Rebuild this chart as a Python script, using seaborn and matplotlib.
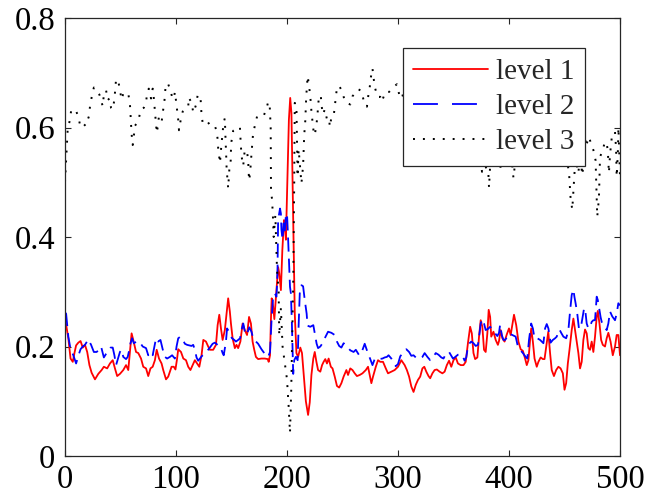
import matplotlib
matplotlib.use("Agg")
import matplotlib.pyplot as plt
from matplotlib.lines import Line2D
import pandas as pd
import seaborn as sns

# ---------------- data ----------------
level1_pts = [
    (0, 0.245), (1, 0.24), (3, 0.215), (5, 0.178), (7, 0.172), (8.5, 0.188), (10, 0.202), (12, 0.207), (14, 0.21), (16, 0.198),
    (18, 0.203), (20, 0.19), (22, 0.166), (24, 0.152), (27, 0.14), (30, 0.15), (33, 0.157), (35, 0.163), (38, 0.16), (40.5, 0.169),
    (43, 0.175), (45, 0.16), (47, 0.146), (49.5, 0.15), (52.5, 0.157), (55, 0.166), (57, 0.157), (58.5, 0.19), (60, 0.224), (61.5, 0.212),
    (64, 0.19), (66, 0.188), (68.5, 0.178), (70.5, 0.163), (73, 0.16), (75, 0.146), (77, 0.16), (79, 0.163), (81, 0.175), (82.6, 0.194),
    (84.7, 0.178), (87, 0.169), (88.5, 0.157), (91, 0.14), (93, 0.145), (96, 0.163), (98, 0.163), (99.5, 0.158), (101, 0.178), (102, 0.195),
    (104.5, 0.19), (106.6, 0.178), (109, 0.175), (111, 0.163), (113, 0.157), (115, 0.166), (117, 0.175), (119, 0.169), (121, 0.163), (123, 0.184),
    (124.6, 0.212), (127, 0.209), (129, 0.2), (130.5, 0.194), (133.5, 0.194), (136, 0.203), (137.5, 0.239), (139, 0.258), (140.5, 0.233), (142, 0.212),
    (144, 0.23), (145.5, 0.26), (147, 0.288), (148.5, 0.264), (149.5, 0.242), (151, 0.215), (153, 0.197), (154.5, 0.203), (156, 0.197), (158, 0.209),
    (160, 0.242), (162, 0.23), (164, 0.221), (165.8, 0.254), (167.5, 0.242), (169, 0.209), (170.5, 0.194), (172, 0.181), (174, 0.177), (177, 0.178),
    (180, 0.178), (182.6, 0.177), (183.5, 0.172), (184.7, 0.184), (185.5, 0.248), (186.2, 0.288), (187.5, 0.273), (188.6, 0.25), (190, 0.29), (191, 0.32),
    (192, 0.345), (193, 0.334), (194.5, 0.303), (195.8, 0.376), (197.3, 0.431), (198.2, 0.419), (199, 0.395), (200.3, 0.504), (201.7, 0.614), (202.9, 0.654),
    (204, 0.626), (205, 0.504), (206, 0.382), (207, 0.26), (208.5, 0.188), (210, 0.181), (212, 0.198), (213.5, 0.188), (215.5, 0.139), (217, 0.1),
    (219, 0.075), (220.5, 0.098), (222, 0.148), (223.7, 0.178), (225, 0.19), (226.5, 0.172), (228, 0.157), (230, 0.154), (231.6, 0.166), (233, 0.172),
    (234.5, 0.177), (236, 0.169), (237.5, 0.178), (239.5, 0.163), (241, 0.16), (243, 0.145), (245, 0.128), (247, 0.125), (249, 0.133), (251, 0.145),
    (253.5, 0.157), (255, 0.148), (257, 0.16), (259, 0.157), (261, 0.151), (263, 0.146), (265.5, 0.148), (268, 0.151), (271, 0.157), (273, 0.163),
    (274.5, 0.148), (276, 0.133), (277.5, 0.145), (280, 0.163), (282, 0.175), (284, 0.172), (286.5, 0.172), (289, 0.16), (291, 0.151), (294, 0.154),
    (297, 0.157), (300, 0.163), (303, 0.175), (306, 0.166), (308, 0.157), (310, 0.145), (312, 0.127), (314, 0.117), (316, 0.13), (318, 0.139),
    (320, 0.145), (322, 0.16), (323.7, 0.163), (325.5, 0.154), (327.5, 0.146), (329, 0.142), (331, 0.151), (333, 0.157), (335, 0.158), (337.5, 0.154),
    (340, 0.151), (342, 0.154), (344, 0.166), (346, 0.174), (348, 0.163), (350, 0.175), (352, 0.18), (354, 0.169), (356.5, 0.166), (359, 0.166),
    (361, 0.172), (363, 0.206), (365, 0.236), (366.5, 0.224), (368, 0.188), (369.5, 0.177), (371.5, 0.18), (373, 0.218), (374.5, 0.248), (376, 0.236),
    (377.5, 0.194), (379, 0.19), (380.5, 0.224), (381.7, 0.267), (383, 0.254), (384, 0.218), (386, 0.227), (388, 0.212), (390, 0.203), (391, 0.21),
    (392.5, 0.23), (394, 0.215), (396, 0.209), (398, 0.222), (400, 0.233), (401.5, 0.221), (404.5, 0.258), (406.5, 0.239), (408.5, 0.209), (410.5, 0.195),
    (412.5, 0.192), (414.5, 0.178), (416, 0.166), (417.5, 0.175), (419, 0.212), (420, 0.233), (421.5, 0.209), (423, 0.178), (425, 0.163), (426.5, 0.172),
    (428.5, 0.18), (430.5, 0.177), (432, 0.177), (434, 0.206), (435.4, 0.227), (437, 0.188), (438.5, 0.157), (440.5, 0.146), (442.5, 0.157), (444.5, 0.163),
    (446.5, 0.16), (448.5, 0.151), (450, 0.121), (451.5, 0.133), (453, 0.169), (454.5, 0.194), (456.5, 0.23), (458, 0.251), (459.5, 0.23), (461, 0.209),
    (462.5, 0.188), (464, 0.16), (465.5, 0.172), (467, 0.212), (468.5, 0.231), (470, 0.224), (471.5, 0.197), (473, 0.194), (474.5, 0.209), (476, 0.19),
    (477.5, 0.218), (479, 0.254), (480, 0.265), (481.5, 0.242), (483, 0.212), (484.5, 0.203), (486.5, 0.2), (488, 0.215), (489.5, 0.225), (491.5, 0.209),
    (493.5, 0.184), (495.5, 0.2), (497, 0.221), (498.5, 0.221), (500, 0.184),
]

level2_pts = [
    (0, 0.262), (1, 0.26), (3, 0.218), (5, 0.195), (7.5, 0.184), (10, 0.169), (12, 0.183), (14, 0.195), (16, 0.2), (18, 0.203),
    (21, 0.213), (23.5, 0.203), (26, 0.19), (28.5, 0.19), (31, 0.195), (32.5, 0.2), (35, 0.18), (38, 0.19), (41, 0.198), (43, 0.198),
    (44.5, 0.184), (46, 0.166), (48, 0.18), (49.5, 0.19), (51, 0.194), (52.5, 0.181), (55, 0.177), (56.5, 0.181), (58, 0.195), (59, 0.206),
    (60.5, 0.215), (62, 0.206), (64.5, 0.209), (67, 0.209), (70, 0.2), (73, 0.197), (75, 0.184), (77, 0.19), (79, 0.184), (80.5, 0.2),
    (82, 0.215), (84, 0.209), (86, 0.212), (88, 0.195), (90, 0.181), (92, 0.178), (94.5, 0.181), (96.5, 0.184), (99, 0.178), (100.5, 0.2),
    (102, 0.215), (104, 0.218), (106, 0.213), (108, 0.205), (110, 0.203), (112, 0.202), (114, 0.201), (115.5, 0.203), (117, 0.194), (118.5, 0.18),
    (120, 0.174), (121.5, 0.178), (123.5, 0.183), (125.5, 0.186), (127, 0.189), (129, 0.194), (130.5, 0.198), (133, 0.205), (135, 0.207), (137.5, 0.203),
    (140, 0.2), (142, 0.188), (143, 0.184), (145, 0.209), (146, 0.233), (147.5, 0.228), (148.6, 0.221), (150.5, 0.215), (152.5, 0.212), (154, 0.209),
    (156, 0.212), (157.7, 0.215), (159, 0.23), (160.6, 0.242), (162, 0.227), (163.7, 0.221), (166, 0.235), (168, 0.227), (169.5, 0.215), (172, 0.209),
    (174, 0.205), (177, 0.195), (179.5, 0.188), (181.7, 0.184), (183, 0.181), (184.7, 0.19), (186, 0.245), (187.5, 0.291), (189, 0.297), (190.5, 0.291),
    (191, 0.312), (191.5, 0.346), (192, 0.431), (193.7, 0.452), (194.5, 0.443), (195, 0.413), (196, 0.395), (197, 0.425), (198, 0.41), (199, 0.44),
    (200, 0.443), (200.8, 0.407), (201.5, 0.37), (202, 0.34), (202.7, 0.309), (203.5, 0.297), (204.3, 0.25), (205, 0.2), (205.6, 0.15), (206.5, 0.175),
    (208, 0.181), (209.6, 0.175), (210.5, 0.24), (211.5, 0.297), (213, 0.312), (214.5, 0.31), (216, 0.285), (217.7, 0.26), (218.5, 0.238), (221, 0.236),
    (223.7, 0.239), (225, 0.224), (226.7, 0.205), (228, 0.197), (230, 0.2), (232, 0.206), (234, 0.215), (237, 0.227), (240, 0.225), (243, 0.221),
    (245, 0.209), (247, 0.201), (249, 0.198), (251, 0.206), (254, 0.2), (257, 0.193), (260, 0.19), (262, 0.194), (265, 0.184), (267, 0.188),
    (270, 0.205), (272.5, 0.19), (275, 0.177), (277, 0.166), (279, 0.177), (281, 0.175), (283, 0.177), (286, 0.178), (288, 0.18), (290, 0.181),
    (291.5, 0.184), (294, 0.178), (296, 0.17), (298, 0.164), (300, 0.168), (302, 0.182), (305, 0.19), (307.5, 0.195), (310, 0.19), (312, 0.183),
    (314, 0.184), (317, 0.178), (319.5, 0.178), (322, 0.181), (324, 0.188), (326.5, 0.181), (329, 0.175), (331.5, 0.18), (334, 0.188), (336.5, 0.185),
    (339, 0.18), (341, 0.178), (343.5, 0.188), (346, 0.19), (348, 0.183), (349.5, 0.178), (351, 0.18), (354, 0.185), (356, 0.186), (358, 0.184),
    (360, 0.174), (361.5, 0.18), (363, 0.2), (364.5, 0.206), (366, 0.209), (368, 0.206), (370, 0.201), (372, 0.203), (373.5, 0.225), (374.5, 0.242),
    (376, 0.25), (377.5, 0.242), (379, 0.23), (381, 0.232), (383, 0.236), (385.5, 0.23), (387.5, 0.224), (389.5, 0.219), (391, 0.225), (392, 0.24),
    (393.5, 0.221), (395, 0.212), (396.5, 0.212), (398.5, 0.218), (400, 0.224), (402, 0.222), (404, 0.22), (406, 0.218), (408, 0.2), (410, 0.194),
    (412.5, 0.188), (415, 0.181), (416.5, 0.178), (418, 0.212), (420, 0.242), (421.5, 0.233), (423, 0.215), (425.5, 0.215), (428, 0.212), (431, 0.206),
    (432.5, 0.233), (434, 0.241), (435.5, 0.233), (437.5, 0.207), (439.5, 0.212), (441.5, 0.215), (443, 0.218), (444.5, 0.227), (445.5, 0.231), (447, 0.225),
    (449, 0.218), (451.5, 0.215), (453.5, 0.23), (455, 0.264), (456.5, 0.294), (458, 0.304), (459, 0.29), (460, 0.279), (461.5, 0.26), (463, 0.233),
    (464.6, 0.233), (466.4, 0.254), (467.5, 0.268), (468.5, 0.27), (470, 0.242), (471.5, 0.233), (473, 0.236), (474.5, 0.245), (476, 0.248), (477.5, 0.248),
    (479, 0.291), (480, 0.285), (481, 0.273), (482.5, 0.254), (483.5, 0.245), (485.5, 0.238), (488, 0.23), (489.5, 0.242), (491, 0.264), (493, 0.255),
    (495.5, 0.248), (497, 0.26), (498.5, 0.279), (500, 0.275),
]

level3_pts = [
    (0, 0.5), (1.5, 0.56), (2.5, 0.6), (4, 0.61), (5.5, 0.63), (7.5, 0.634), (10, 0.63), (12, 0.62), (13.5, 0.605), (15, 0.61),
    (18.5, 0.603), (21.5, 0.62), (22.5, 0.638), (24, 0.655), (26, 0.673), (28.5, 0.668), (31, 0.66), (32.5, 0.649), (34, 0.639), (35, 0.66),
    (37, 0.668), (38.5, 0.65), (40, 0.653), (41.5, 0.636), (43, 0.633), (44.5, 0.651), (46, 0.688), (48, 0.685), (49.5, 0.668), (51, 0.651),
    (52.5, 0.662), (54.5, 0.66), (57, 0.662), (58.5, 0.643), (59, 0.625), (59.5, 0.606), (60, 0.588), (61, 0.568), (62, 0.584), (63, 0.603),
    (65, 0.609), (66.5, 0.615), (68, 0.632), (71, 0.636), (73, 0.645), (74, 0.664), (75.5, 0.671), (77.5, 0.653), (79, 0.671), (79.5, 0.662),
    (80.5, 0.645), (81, 0.627), (82, 0.609), (82.5, 0.59), (83.5, 0.6), (84.5, 0.618), (85.5, 0.612), (87, 0.609), (88, 0.627), (89.5, 0.645),
    (90, 0.662), (91, 0.68), (93, 0.679), (94.6, 0.67), (96.5, 0.656), (98, 0.652), (99, 0.665), (100, 0.649), (101, 0.631), (102, 0.614),
    (102.7, 0.595), (104, 0.611), (106, 0.629), (111, 0.637), (111.5, 0.655), (114, 0.645), (115.6, 0.627), (118, 0.641), (119.5, 0.659), (122, 0.658),
    (122.5, 0.641), (123, 0.623), (124, 0.609), (126, 0.608), (128, 0.612), (131, 0.603), (135, 0.603), (136.5, 0.594), (137.5, 0.579), (138, 0.562),
    (139, 0.544), (139.6, 0.535), (140.3, 0.553), (141, 0.571), (142, 0.589), (142.6, 0.606), (144, 0.617), (144.3, 0.598), (144.6, 0.58), (145, 0.562),
    (145.3, 0.544), (145.6, 0.525), (146.3, 0.507), (147, 0.489), (148, 0.522), (149.3, 0.54), (149.5, 0.558), (150, 0.575), (151.5, 0.594), (154, 0.597),
    (155.6, 0.599), (157.6, 0.601), (158, 0.583), (158.5, 0.566), (159, 0.548), (160.6, 0.53), (161, 0.541), (162, 0.559), (164, 0.556), (165, 0.54),
    (165.8, 0.503), (166.7, 0.515), (168, 0.552), (169.4, 0.588), (171, 0.603), (173, 0.62), (177, 0.621), (179, 0.621), (182, 0.638), (183, 0.647),
    (184.4, 0.641), (185.3, 0.6), (185.6, 0.48), (186.5, 0.47), (187.5, 0.43), (188, 0.4), (189.5, 0.44), (191, 0.34), (192.5, 0.3), (193, 0.22),
    (194.5, 0.27), (196, 0.2), (198, 0.17), (200, 0.14), (201.5, 0.09), (202.7, 0.042), (203.8, 0.12), (204.5, 0.2), (205.7, 0.33), (206.5, 0.5),
    (207, 0.645), (208.5, 0.64), (209.5, 0.51), (210.5, 0.56), (211.7, 0.53), (213, 0.498), (214.5, 0.53), (215.5, 0.586), (216.5, 0.613), (217.3, 0.656),
    (218.6, 0.694), (219.5, 0.682), (220.5, 0.665), (221.5, 0.645), (222, 0.629), (223, 0.611), (224, 0.592), (225, 0.586), (226.5, 0.605), (227.5, 0.623),
    (228, 0.641), (229, 0.658), (230.5, 0.658), (231, 0.641), (232.5, 0.624), (234, 0.633), (236, 0.615), (238, 0.617), (238.5, 0.601), (240, 0.618),
    (242, 0.62), (243, 0.638), (244, 0.656), (245, 0.673), (247, 0.676), (250, 0.665), (252, 0.648), (254, 0.645), (257, 0.642), (259, 0.657),
    (264, 0.67), (267, 0.667), (269, 0.65), (272, 0.638), (273, 0.655), (274.5, 0.673), (275.5, 0.691), (277, 0.708), (278, 0.69), (279.5, 0.671),
    (281.5, 0.656), (284, 0.656), (285.5, 0.647), (288.5, 0.665), (292, 0.665), (296.5, 0.675), (299, 0.679), (301, 0.661), (303, 0.667), (306, 0.645),
    (309, 0.66), (312, 0.63), (315, 0.65), (318, 0.62), (321, 0.64), (324, 0.665), (327, 0.64), (330, 0.61), (333, 0.63), (336, 0.655),
    (339, 0.64), (342, 0.6), (345, 0.62), (348, 0.645), (351, 0.63), (354, 0.6), (357, 0.615), (360, 0.64), (363, 0.62), (366, 0.59),
    (369, 0.6), (372, 0.57), (374, 0.545), (375.7, 0.519), (377.5, 0.54), (379.5, 0.525), (381, 0.535), (382, 0.49), (383.5, 0.55), (386, 0.6),
    (389, 0.58), (391, 0.545), (392, 0.522), (393.5, 0.55), (396, 0.6), (399, 0.58), (402, 0.55), (404, 0.508), (405, 0.526), (407, 0.56),
    (410, 0.6), (413, 0.58), (416, 0.555), (418.5, 0.535), (420, 0.525), (421.5, 0.55), (424, 0.6), (427, 0.62), (430, 0.6), (433, 0.63),
    (436, 0.61), (439, 0.59), (442, 0.6), (445, 0.58), (448, 0.59), (450, 0.56), (452, 0.54), (454, 0.52), (455.5, 0.47), (457, 0.45),
    (458.5, 0.5), (460, 0.55), (461.5, 0.525), (462.5, 0.517), (464, 0.55), (466, 0.513), (467.5, 0.54), (469, 0.58), (470, 0.57), (472, 0.583),
    (474, 0.57), (476, 0.559), (478, 0.54), (479.5, 0.437), (481, 0.47), (482, 0.546), (484.5, 0.56), (486.5, 0.574), (488, 0.57), (489, 0.559),
    (490, 0.517), (491, 0.55), (492.5, 0.58), (494, 0.59), (495.5, 0.592), (496.5, 0.56), (497, 0.51), (498, 0.55), (498.6, 0.6), (500, 0.51),
]

series_labels = ["level 1", "level 2", "level 3"]
x_ticks = [0, 100, 200, 300, 400, 500]
y_ticks = [0, 0.2, 0.4, 0.6, 0.8]
y_tick_labels = ["0", "0.2", "0.4", "0.6", "0.8"]

# ---------------- style ----------------
sns.set_style("ticks")
plt.rcParams["font.family"] = ["Liberation Serif", "DejaVu Serif"]
AX_COLOR = "#262626"

fig = plt.figure(figsize=(6.45, 5.01), dpi=100)
ax = fig.add_axes([65 / 645, 1 - 456 / 501, 555 / 645, 438 / 501])

frames = []
for pts, lab in zip([level1_pts, level2_pts, level3_pts], series_labels):
    xs, ys = zip(*pts)
    frames.append(pd.DataFrame({"x": xs, "y": ys, "series": lab}))

styles = {
    "level 1": dict(color="#ff0000", lw=1.3, ls="-"),
    "level 2": dict(color="#0000ff", lw=1.3, ls=(0, (7.8, 3.9))),
    "level 3": dict(color="#000000", lw=1.4, ls=(0, (1.0, 4.1))),
}
for df in frames:
    lab = df["series"].iloc[0]
    st = styles[lab]
    sns.lineplot(data=df, x="x", y="y", ax=ax, estimator=None, sort=False,
                 color=st["color"], linewidth=st["lw"], linestyle=st["ls"])

ax.set_xlim(0, 500)
ax.set_ylim(0, 0.8)
ax.set_xticks(x_ticks)
ax.set_xticklabels([str(t) for t in x_ticks])
ax.set_yticks(y_ticks)
ax.set_yticklabels(y_tick_labels)
ax.set_xlabel("")
ax.set_ylabel("")

for sp in ax.spines.values():
    sp.set_visible(True)
    sp.set_color(AX_COLOR)
    sp.set_linewidth(0.9)
ax.tick_params(axis="both", which="both", direction="in", length=4, width=0.8,
               color=AX_COLOR, labelsize=23.5, labelcolor="black",
               top=True, right=True)
ax.tick_params(axis="x", pad=6)
ax.tick_params(axis="y", pad=7)

# legend with the reference's handle styles
handles = [
    Line2D([], [], color="#ff0000", lw=1.3, ls="-"),
    Line2D([], [], color="#0000ff", lw=1.3, ls=(0, (13.8, 7.8))),
    Line2D([], [], color="#000000", lw=1.4, ls=(0, (1.0, 4.1))),
]
leg = ax.legend(handles, series_labels, loc="upper right",
                bbox_to_anchor=((585 - 65) / 555, (456 - 48) / 438),
                borderaxespad=0, frameon=True, fancybox=False, framealpha=1,
                edgecolor=AX_COLOR, fontsize=21, handlelength=2.55,
                handletextpad=0.28, borderpad=0.36, labelspacing=0.30)
leg.get_frame().set_linewidth(0.9)

fig.savefig("out.png", dpi=100)
